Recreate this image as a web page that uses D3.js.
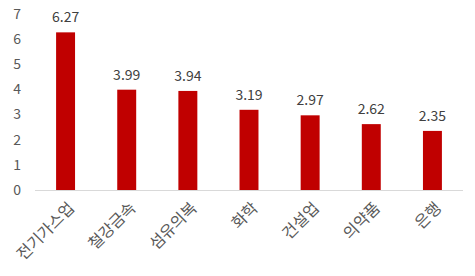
<!DOCTYPE html>
<html>
<head>
<meta charset="utf-8">
<script src="https://cdn.jsdelivr.net/npm/d3@7"></script>
<style>
  body { margin: 0; background: #fff; }
  text { font-family: "Noto Sans CJK KR", "Noto Sans", sans-serif; }
</style>
</head>
<body>
<div id="chart"></div>
<script>
var categories = ["전기가스업", "철강금속", "섬유의복", "화학", "건설업", "의약품", "은행"];
var values = [6.27, 3.99, 3.94, 3.19, 2.97, 2.62, 2.35];
var yTicks = [0, 1, 2, 3, 4, 5, 6, 7];

var width = 475,
  height = 276,
  margin = {top: 14, right: 12, bottom: 86, left: 35};

var svg = d3.select("#chart")
  .append("svg")
  .attr("width", width)
  .attr("height", height);

var x = d3.scaleBand()
  .domain(categories)
  .range([margin.left, width - margin.right])
  .paddingInner(0.69)
  .paddingOuter(0.345);

var y = d3.scaleLinear()
  .domain([0, 7])
  .range([height - margin.bottom, margin.top]);

// y tick labels (no axis line)
svg.selectAll(".ytick")
  .data(yTicks)
  .enter()
  .append("text")
  .attr("class", "ytick")
  .attr("x", 21)
  .attr("y", function (d) { return y(d); })
  .attr("dy", "0.35em")
  .attr("text-anchor", "end")
  .attr("fill", "#595959")
  .attr("font-size", "14px")
  .text(function (d) { return d; });

// baseline
svg.append("line")
  .attr("x1", margin.left)
  .attr("x2", width - margin.right)
  .attr("y1", y(0) + 0.5)
  .attr("y2", y(0) + 0.5)
  .attr("stroke", "#d9d9d9")
  .attr("stroke-width", 1);

// bars
svg.selectAll(".bar")
  .data(values)
  .enter()
  .append("rect")
  .attr("class", "bar")
  .attr("x", function (d, i) { return x(categories[i]); })
  .attr("y", function (d) { return y(d); })
  .attr("width", x.bandwidth())
  .attr("height", function (d) { return y(0) - y(d); })
  .attr("fill", "#c00000");

// value labels
svg.selectAll(".val")
  .data(values)
  .enter()
  .append("text")
  .attr("class", "val")
  .attr("x", function (d, i) { return x(categories[i]) + x.bandwidth() / 2; })
  .attr("y", function (d) { return y(d) - 10; })
  .attr("text-anchor", "middle")
  .attr("fill", "#404040")
  .attr("font-size", "14px")
  .text(function (d) { return d.toFixed(2); });

// category labels, rotated
svg.selectAll(".cat")
  .data(categories)
  .enter()
  .append("text")
  .attr("class", "cat")
  .attr("transform", function (d) {
    return "translate(" + (x(d) + x.bandwidth() / 2 + 6) + "," + (y(0) + 15) + ") rotate(-45)";
  })
  .attr("text-anchor", "end")
  .attr("dy", "0.35em")
  .attr("fill", "#595959")
  .attr("font-size", "16px")
  .text(function (d) { return d; });
</script>
</body>
</html>
